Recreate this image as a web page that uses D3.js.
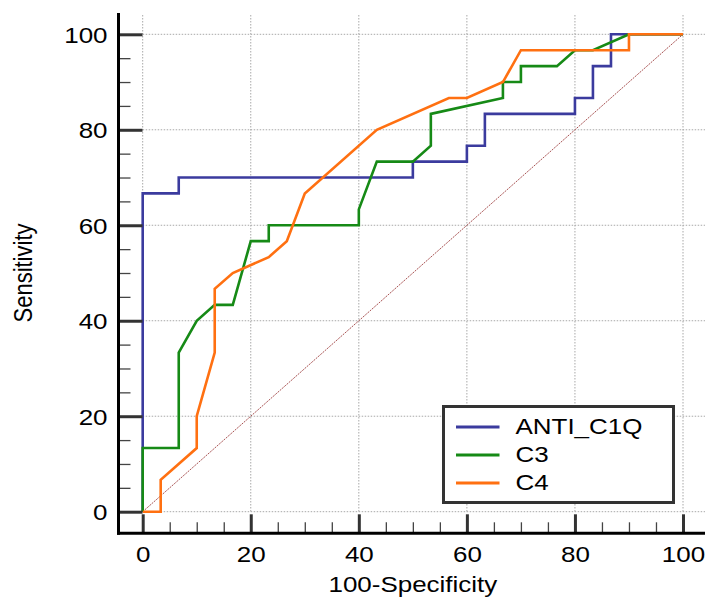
<!DOCTYPE html>
<html>
<head>
<meta charset="utf-8">
<script src="https://cdn.jsdelivr.net/npm/d3@7"></script>
<style>
  body { margin: 0; background: #fff; }
  svg { display: block; }
</style>
</head>
<body>
<svg id="svg1" width="705" height="597"></svg>
<script>
// ROC curves (100-Specificity vs Sensitivity)
var seriesNames = ["ANTI_C1Q", "C3", "C4"];
var seriesColors = ["#3b3b9e", "#168a16", "#ff7011"];

var antiX = [0, 0, 6.67, 6.67, 50, 50, 60, 60, 63.33, 63.33, 80, 80, 83.33, 83.33, 86.67, 86.67, 100];
var antiY = [0, 66.67, 66.67, 70, 70, 73.33, 73.33, 76.67, 76.67, 83.33, 83.33, 86.67, 86.67, 93.33, 93.33, 100, 100];

var c3X = [0, 0, 6.67, 6.67, 10, 13.33, 16.67, 20, 23.33, 23.33, 40, 40, 43.33, 50, 53.33, 53.33, 66.67, 66.67, 70, 70, 76.67, 80, 83.33, 90, 100];
var c3Y = [0, 13.33, 13.33, 33.33, 40, 43.33, 43.33, 56.67, 56.67, 60, 60, 63.33, 73.33, 73.33, 76.67, 83.33, 86.67, 90, 90, 93.33, 93.33, 96.67, 96.67, 100, 100];

var c4X = [0, 3.33, 3.33, 10, 10, 13.33, 13.33, 16.67, 23.33, 26.67, 30, 43.33, 56.67, 60, 66.67, 70, 90, 90, 100];
var c4Y = [0, 0, 6.67, 13.33, 20, 33.33, 46.67, 50, 53.33, 56.67, 66.67, 80, 86.67, 86.67, 90, 96.67, 96.67, 100, 100];

var majorTicks = [0, 20, 40, 60, 80, 100];
var minorTicks = [5, 10, 15, 25, 30, 35, 45, 50, 55, 65, 70, 75, 85, 90, 95];
var refLine = [0, 100];

var FONT = "'Liberation Sans', Arial, sans-serif";
var SX = 1.18; // text in the original is a bit wider than tall

var svg = d3.select("#svg1");
var W = 705, H = 597;

var x = d3.scaleLinear().domain([0, 100]).range([142.7, 683]);
var y = d3.scaleLinear().domain([0, 100]).range([511.7, 34.3]);

var axisXpos = 118.5; // y axis line
var axisYpos = 533.3; // x axis line
var gridTop = 15;

var g = svg.append("g");

// grid
var grid = g.append("g")
  .attr("stroke", "#a8a8a8")
  .attr("stroke-width", 1)
  .attr("stroke-dasharray", "1.5,1.5");
grid.selectAll("line.h").data(majorTicks).join("line")
  .attr("class", "h")
  .attr("x1", x(0)).attr("x2", W)
  .attr("y1", function(d) { return y(d); })
  .attr("y2", function(d) { return y(d); });
grid.selectAll("line.v").data(majorTicks).join("line")
  .attr("class", "v")
  .attr("x1", function(d) { return x(d); })
  .attr("x2", function(d) { return x(d); })
  .attr("y1", gridTop).attr("y2", y(0));

// reference diagonal
g.append("line")
  .attr("x1", x(refLine[0])).attr("y1", y(refLine[0]))
  .attr("x2", x(refLine[1])).attr("y2", y(refLine[1]))
  .attr("stroke", "#a85252")
  .attr("stroke-width", 1)
  .attr("stroke-dasharray", "2,1");

// curves
var allX = [antiX, c3X, c4X];
var allY = [antiY, c3Y, c4Y];
var line = d3.line()
  .x(function(d) { return x(d[0]); })
  .y(function(d) { return y(d[1]); });

seriesNames.forEach(function(name, i) {
  var pts = allX[i].map(function(v, j) { return [v, allY[i][j]]; });
  g.append("path")
    .datum(pts)
    .attr("d", line)
    .attr("fill", "none")
    .attr("stroke", seriesColors[i])
    .attr("stroke-width", 2.6)
    .attr("stroke-linejoin", "miter");
});

// Y axis
var gAxisY = g.append("g").attr("transform", "translate(" + axisXpos + ",0)");
var axisYMinor = d3.axisLeft(y).tickValues(minorTicks).tickSizeInner(-12).tickSizeOuter(0).tickFormat("");
gAxisY.append("g").call(axisYMinor)
  .call(function(s) { s.select(".domain").remove(); })
  .selectAll("line").attr("stroke", "#444").attr("stroke-width", 1.3);
var axisY = d3.axisLeft(y).tickValues(majorTicks).tickSizeInner(-24).tickSizeOuter(0).tickPadding(11);
var gy = gAxisY.append("g").call(axisY);
gy.select(".domain").remove();
gy.selectAll("line").attr("stroke", "#333").attr("stroke-width", 3);
gy.selectAll("text")
  .attr("x", 0)
  .attr("transform", "translate(-11,0) scale(" + SX + ",1)")
  .attr("dy", "0.36em")
  .attr("fill", "#000")
  .style("font-family", FONT)
  .style("font-size", "22px");
gAxisY.append("line")
  .attr("x1", 0).attr("x2", 0)
  .attr("y1", 13).attr("y2", axisYpos + 1.5)
  .attr("stroke", "#000").attr("stroke-width", 3);

// X axis
var gAxisX = g.append("g").attr("transform", "translate(0," + axisYpos + ")");
var axisXMinor = d3.axisBottom(x).tickValues(minorTicks).tickSizeInner(-11).tickSizeOuter(0).tickFormat("");
gAxisX.append("g").call(axisXMinor)
  .call(function(s) { s.select(".domain").remove(); })
  .selectAll("line").attr("stroke", "#444").attr("stroke-width", 1.3);
var axisX = d3.axisBottom(x).tickValues(majorTicks).tickSizeInner(-19).tickSizeOuter(0).tickPadding(13);
var gx = gAxisX.append("g").call(axisX);
gx.select(".domain").remove();
gx.selectAll("line").attr("stroke", "#333").attr("stroke-width", 3);
gx.selectAll("text")
  .attr("transform", "scale(" + SX + ",1)")
  .attr("fill", "#000")
  .style("font-family", FONT)
  .style("font-size", "22px");
gAxisX.append("line")
  .attr("x1", axisXpos - 1.5).attr("x2", W)
  .attr("y1", 0).attr("y2", 0)
  .attr("stroke", "#000").attr("stroke-width", 3);

// axis titles
g.append("text")
  .attr("transform", "translate(" + x(50) + ",592) scale(" + SX + ",1)")
  .attr("text-anchor", "middle")
  .attr("fill", "#000")
  .style("font-family", FONT)
  .style("font-size", "22px")
  .text("100-Specificity");
g.append("text")
  .attr("transform", "translate(31.5," + y(50) + ") scale(" + SX + ",1) rotate(-90)")
  .attr("text-anchor", "middle")
  .attr("fill", "#000")
  .style("font-family", FONT)
  .style("font-size", "22px")
  .text("Sensitivity");

// legend
var legend = g.append("g").attr("transform", "translate(443.5,406.5)");
legend.append("rect")
  .attr("width", 230).attr("height", 96)
  .attr("fill", "#fff")
  .attr("stroke", "#333")
  .attr("stroke-width", 3);
var rows = legend.selectAll("g.row").data(seriesNames).join("g")
  .attr("class", "row")
  .attr("transform", function(d, i) { return "translate(0," + (27 + i * 28) + ")"; });
rows.append("line")
  .attr("x1", 12.5).attr("x2", 56)
  .attr("y1", -6.5).attr("y2", -6.5)
  .attr("stroke", function(d, i) { return seriesColors[i]; })
  .attr("stroke-width", 3);
rows.append("text")
  .attr("transform", "translate(72,0) scale(" + SX + ",1)")
  .attr("fill", "#000")
  .style("font-family", FONT)
  .style("font-size", "22px")
  .text(function(d) { return d; });
</script>
</body>
</html>
